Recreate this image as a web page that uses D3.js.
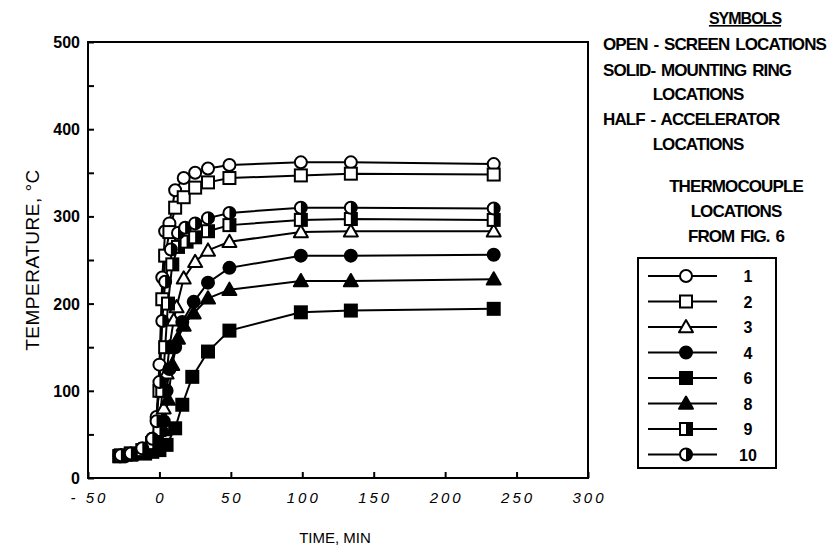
<!DOCTYPE html>
<html>
<head>
<meta charset="utf-8">
<script src="https://cdn.jsdelivr.net/npm/d3@7"></script>
<style>
  body { margin: 0; background: #fff; }
  text { font-family: "Liberation Sans", Arial, sans-serif; fill: #000; }
</style>
</head>
<body>
<div id="chart"></div>
<script>
// thermocouple ids and marker kinds
const seriesIds = ['1', '2', '3', '4', '6', '8', '9', '10'];
const seriesMarks = ['circle-open', 'square-open', 'tri-open', 'circle-solid', 'square-solid', 'tri-solid', 'square-half', 'circle-half'];

// readings: [time (min), temperature (C)]
const tc1 = [[-28,25],[-20,27],[-10,32],[-5,45],[-2,70],[0,130],[2,230],[4,283],[7,292],[11,330],[17,344],[25,350],[34,355],[49,359],[99,362],[134,362],[234,360]];
const tc2 = [[-28,25],[-20,28],[-10,33],[-5,40],[0,100],[2,205],[4,255],[7,282],[11,310],[17,322],[25,333],[34,339],[49,344],[99,347],[134,349],[234,348]];
const tc3 = [[-27,25],[-20,27],[-12,30],[-5,35],[0,45],[3,80],[5,120],[7,150],[10,181],[12,196],[17,229],[25,248],[34,261],[49,271],[99,282],[134,283],[234,283]];
const tc4 = [[-27,25],[-20,27],[-12,30],[-5,33],[0,40],[3,65],[5,100],[7,125],[11,150],[16,179],[24,202],[34,224],[49,241],[99,255],[134,255],[234,256]];
const tc6 = [[-28,25],[-20,27],[-10,28],[-5,30],[0,32],[5,38],[11,57],[16,84],[23,116],[34,145],[49,169],[99,190],[134,192],[234,194]];
const tc8 = [[-27,25],[-20,26],[-12,28],[-5,32],[0,38],[3,55],[6,90],[9,130],[13,160],[17,175],[24,189],[34,206],[49,216],[99,226],[134,226],[234,228]];
const tc9 = [[-27,26],[-20,28],[-12,32],[-5,40],[0,55],[2,100],[4,150],[6,200],[9,245],[13,265],[19,271],[25,276],[34,283],[49,290],[99,296],[134,297],[234,296]];
const tc10 = [[-27,26],[-20,28],[-12,34],[-5,45],[-2,65],[0,110],[2,180],[4,225],[8,262],[13,281],[18,287],[25,292],[34,298],[49,304],[99,310],[134,310],[234,309]];
const seriesData = [tc1, tc2, tc3, tc4, tc6, tc8, tc9, tc10];

const xTicks = [-50, 0, 50, 100, 150, 200, 250, 300];
const yTicks = [0, 50, 100, 150, 200, 250, 300, 350, 400, 450, 500];
const yLabels = [0, 100, 200, 300, 400, 500];

const symbolsTitle = 'SYMBOLS';
const noteLines = [
  {t: 'OPEN - SCREEN LOCATIONS', x: 603, y: 50, a: 'start'},
  {t: 'SOLID- MOUNTING RING', x: 603, y: 76, a: 'start'},
  {t: 'LOCATIONS', x: 698, y: 100, a: 'middle'},
  {t: 'HALF - ACCELERATOR', x: 603, y: 125, a: 'start'},
  {t: 'LOCATIONS', x: 698, y: 150, a: 'middle'},
  {t: 'THERMOCOUPLE', x: 736, y: 192, a: 'middle'},
  {t: 'LOCATIONS', x: 736, y: 217, a: 'middle'},
  {t: 'FROM FIG. 6', x: 736, y: 242, a: 'middle'}
];

const W = 837, H = 555;
const plot = {left: 88, right: 588, top: 42, bottom: 478};

const svg = d3.select('#chart').append('svg')
    .attr('width', W)
    .attr('height', H);

const x = d3.scaleLinear().domain([-50, 300]).range([plot.left, plot.right]);
const y = d3.scaleLinear().domain([0, 500]).range([plot.bottom, plot.top]);

// frame
svg.append('rect')
    .attr('x', plot.left).attr('y', plot.top)
    .attr('width', plot.right - plot.left)
    .attr('height', plot.bottom - plot.top)
    .attr('fill', 'none')
    .attr('stroke', '#000')
    .attr('stroke-width', 2);

// left axis, inward ticks
const yAxis = svg.append('g')
    .attr('transform', `translate(${plot.left},0)`)
    .call(d3.axisRight(y).tickValues(yTicks).tickSize(6).tickFormat(''));
yAxis.select('.domain').remove();
yAxis.selectAll('line').attr('stroke-width', 2);

svg.append('g').selectAll('text')
    .data(yLabels)
    .join('text')
    .attr('x', 80)
    .attr('y', d => y(d) + 6)
    .attr('text-anchor', 'end')
    .style('font-size', '16px')
    .style('font-weight', 'bold')
    .text(d => d);

// bottom axis, inward ticks
const xAxis = svg.append('g')
    .attr('transform', `translate(0,${plot.bottom})`)
    .call(d3.axisTop(x).tickValues(xTicks).tickSize(6).tickFormat(''));
xAxis.select('.domain').remove();
xAxis.selectAll('line').attr('stroke-width', 2);

svg.append('g').selectAll('text')
    .data(xTicks)
    .join('text')
    .attr('x', d => x(d) + 1.5)
    .attr('y', 503)
    .attr('text-anchor', 'middle')
    .style('font-size', '15px')
    .style('font-style', 'italic')
    .style('letter-spacing', '3px')
    .text(d => d < 0 ? '- ' + Math.abs(d) : d);

// axis titles
svg.append('text')
    .attr('transform', `translate(39,${(plot.top + plot.bottom) / 2}) rotate(-90)`)
    .attr('text-anchor', 'middle')
    .style('font-size', '19px')
    .style('letter-spacing', '0.5px')
    .text('TEMPERATURE, \u00B0C');

svg.append('text')
    .attr('x', 335).attr('y', 543)
    .attr('text-anchor', 'middle')
    .style('font-size', '15px')
    .text('TIME, MIN');

// marker drawing
const R = 6;
function drawMarker(g, kind, cx, cy){
    const shape = kind.split('-')[0];
    const fill = kind.split('-')[1];
    const base = fill === 'solid' ? '#000' : '#fff';
    if(shape === 'circle'){
        g.append('circle').attr('cx', cx).attr('cy', cy).attr('r', R)
            .attr('fill', base).attr('stroke', '#000').attr('stroke-width', 2);
        if(fill === 'half'){
            g.append('path')
                .attr('d', `M${cx},${cy - R} A${R},${R} 0 0 1 ${cx},${cy + R} Z`)
                .attr('fill', '#000');
        }
    } else if(shape === 'square'){
        g.append('rect').attr('x', cx - R).attr('y', cy - R)
            .attr('width', 2 * R).attr('height', 2 * R)
            .attr('fill', base).attr('stroke', '#000').attr('stroke-width', 2);
        if(fill === 'half'){
            g.append('rect').attr('x', cx).attr('y', cy - R)
                .attr('width', R).attr('height', 2 * R)
                .attr('fill', '#000');
        }
    } else {
        const s = 7;
        g.append('path')
            .attr('d', `M${cx},${cy - s} L${cx + s},${cy + s * 0.75} L${cx - s},${cy + s * 0.75} Z`)
            .attr('fill', base).attr('stroke', '#000').attr('stroke-width', 2)
            .attr('stroke-linejoin', 'round');
    }
}

const line = d3.line().x(d => x(d[0])).y(d => y(d[1]));

const seriesGrp = svg.append('g');
seriesData.forEach(pts => {
    seriesGrp.append('path')
        .attr('d', line(pts))
        .attr('fill', 'none')
        .attr('stroke', '#000')
        .attr('stroke-width', 2);
});
seriesData.forEach((pts, i) => {
    const g = seriesGrp.append('g');
    pts.forEach(p => drawMarker(g, seriesMarks[i], x(p[0]), y(p[1])));
});

// notes
svg.append('text')
    .attr('x', 745).attr('y', 24)
    .attr('text-anchor', 'middle')
    .style('font-size', '16px')
    .style('font-weight', 'bold')
    .style('letter-spacing', '-1px')
    .style('text-decoration', 'underline')
    .text(symbolsTitle);

svg.append('g').selectAll('text')
    .data(noteLines)
    .join('text')
    .attr('x', d => d.x)
    .attr('y', d => d.y)
    .attr('text-anchor', d => d.a)
    .style('font-size', '17px')
    .style('font-weight', 'bold')
    .style('letter-spacing', '-0.9px')
    .style('word-spacing', '2px')
    .text(d => d.t);

// legend
const leg = {left: 638, top: 258, right: 776, bottom: 468, row0: 276, step: 25.5};
svg.append('rect')
    .attr('x', leg.left).attr('y', leg.top)
    .attr('width', leg.right - leg.left)
    .attr('height', leg.bottom - leg.top)
    .attr('fill', 'none')
    .attr('stroke', '#000')
    .attr('stroke-width', 2);

seriesIds.forEach((id, i) => {
    const ly = leg.row0 + i * leg.step;
    const g = svg.append('g');
    g.append('line')
        .attr('x1', 648).attr('x2', 717)
        .attr('y1', ly).attr('y2', ly)
        .attr('stroke', '#000').attr('stroke-width', 2);
    drawMarker(g, seriesMarks[i], 686, ly);
    g.append('text')
        .attr('x', 748).attr('y', ly + 6)
        .attr('text-anchor', 'middle')
        .style('font-size', '16px')
        .style('font-weight', 'bold')
        .text(id);
});
</script>
</body>
</html>
